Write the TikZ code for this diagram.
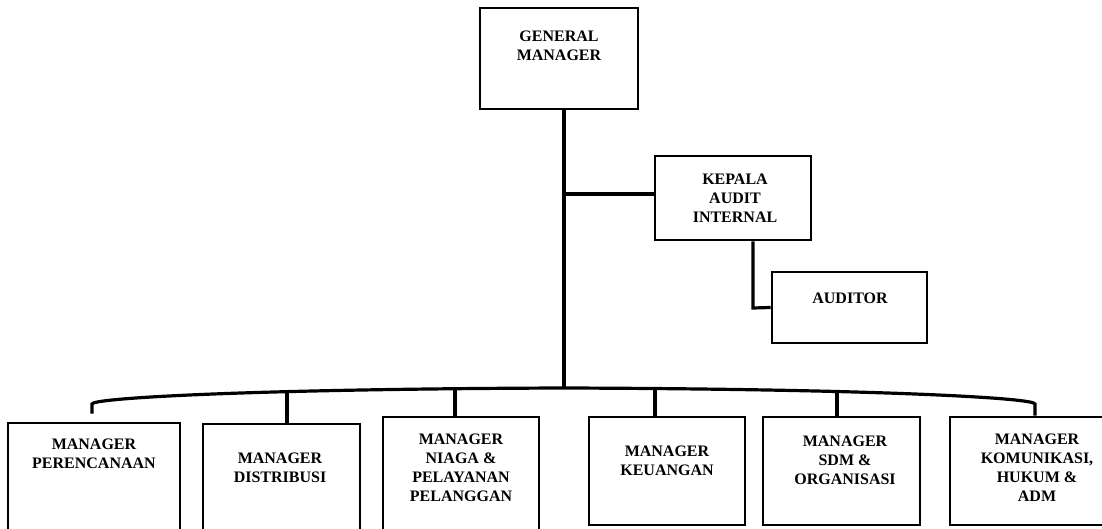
\documentclass[tikz,border=0pt]{standalone}
\usepackage{fontspec}
\setmainfont{Liberation Serif}
\usepackage{tikz}
\tikzstyle{Box}=[draw=black,line width=2.6pt,inner sep=0pt]
\tikzstyle{Title}=[font=\bfseries\fontsize{16}{19}\selectfont,
align=center,inner sep=0pt]
\tikzstyle{Bus}=[draw=black,line width=3.2pt]
\tikzstyle{Trunk}=[draw=black,line width=4.8pt]

\begin{document}
\begin{tikzpicture}[x=1pt,y=-1pt]
            \useasboundingbox(0,0)rectangle(1102,529);
            \clip(0,0)rectangle(1102,529);
            % boxes
            \node[Box,minimum width=158pt,minimum height=101pt](gm)at(559,58.5){};
            \node[Box,minimum width=156pt,minimum height=84pt](audit)at(733,198){};
            \node[Box,minimum width=155pt,minimum height=71pt](auditor)at(849.5,307.5){};
            \node[Box,minimum width=172pt,minimum height=117pt](mper)at(94,481.5){};
            \node[Box,minimum width=157pt,minimum height=116pt](mdis)at(281.5,482){};
            \node[Box,minimum width=156pt,minimum height=123pt](mnia)at(461,478.5){};
            \node[Box,minimum width=156pt,minimum height=108pt](mkeu)at(667,471){};
            \node[Box,minimum width=157pt,minimum height=108pt](msdm)at(841.5,471){};
            \node[Box,minimum width=174pt,minimum height=108pt](mkom)at(1037,471){};
            % texts
            \node[Title](gmt)at(559,46){GENERAL\\MANAGER};
            \node[Title](auditt)at(735,198){KEPALA\\AUDIT\\INTERNAL};
            \node[Title](auditort)at(850,298){AUDITOR};
            \node[Title](mpert)at(94,454){MANAGER\\PERENCANAAN};
            \node[Title](mdist)at(280,468){MANAGER\\DISTRIBUSI};
            \node[Title](mniat)at(461,468)
                {MANAGER\\NIAGA \&\\PELAYANAN\\PELANGGAN};
            \node[Title](mkeut)at(667,461){MANAGER\\KEUANGAN};
            \node[Title](msdmt)at(845,460){MANAGER\\SDM \&\\ORGANISASI};
            \node[Title](mkomt)at(1037,468)
                {MANAGER\\KOMUNIKASI,\\HUKUM \&\\ADM};
            % connectors
            \coordinate(bus)at(564,388);
            \coordinate(ka)at(564,194);
            \coordinate(ad)at(753,308);
            \coordinate(d1)at(92,404);
            \coordinate(d2)at(287,390);
            \coordinate(d3)at(455,389);
            \coordinate(d4)at(655,389);
            \coordinate(d5)at(837,391);
            \coordinate(d6)at(1035,404);
            \draw[Trunk](gm.south -| bus)--(bus);
            \draw[Bus](ka)--(ka -| audit.west);
            \draw[Bus](audit.south -| ad)--(ad)--(auditor.west);
            \draw[Bus]([yshift=8pt]mper.north -| d1)--(d1)
                ..controls(92,398)and(250,389)..(bus)
                ..controls(880,389)and(1035,398)..(d6)--(mkom.north -| d6);
            \draw[Bus](d2)--(d2 |- mdis.north);
            \draw[Bus](d3)--(d3 |- mnia.north);
            \draw[Bus](d4)--(d4 |- mkeu.north);
            \draw[Bus](d5)--(d5 |- msdm.north);
        \end{tikzpicture}
\end{document}
